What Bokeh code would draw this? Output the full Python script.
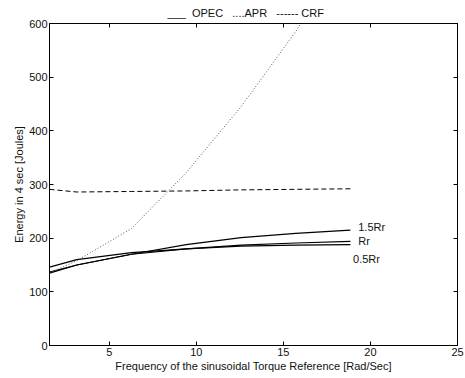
from bokeh.plotting import figure
from bokeh.models import Range1d, LinearAxis, FixedTicker, Label, Title
from bokeh.embed import file_html
from bokeh.resources import INLINE

# data
freq = [1.57, 3.14, 6.28, 9.42, 12.57, 15.71, 18.85]
opec_15rr = [135, 150, 170, 188, 201, 209, 215]
opec_rr = [137, 150, 170, 180, 187, 191, 194]
opec_05rr = [146, 160, 173, 180, 185, 187, 188]
apr = [135, 158, 218, 322, 445, 585, 750]
crf = [291, 286, 287, 288, 290, 291, 292]
x_ticks = [5, 10, 15, 20, 25]
y_ticks = [0, 100, 200, 300, 400, 500, 600]
curve_labels = ["1.5Rr", "Rr", "0.5Rr"]
curve_label_x = [19.3, 19.3, 19.0]
curve_label_y = [221, 194, 161]
legend_text = "___\u00a0\u00a0OPEC\u00a0\u00a0\u00a0....APR\u00a0\u00a0\u00a0------\u00a0CRF"

FONT = "Liberation Sans"
FS = "11px"

p = figure(width=465, height=378, output_backend="svg", toolbar_location=None,
           x_range=Range1d(1.57, 25), y_range=Range1d(0, 600),
           min_border_left=49, min_border_right=8, min_border_top=4, min_border_bottom=33)
p.grid.visible = False
p.outline_line_color = "black"
p.outline_line_width = 1
p.background_fill_color = "white"
p.border_fill_color = "white"

p.line(freq, opec_15rr, line_color="black", line_width=1.2)
p.line(freq, opec_rr, line_color="black", line_width=1.2)
p.line(freq, opec_05rr, line_color="black", line_width=1.2)
p.line(freq, apr, line_color="#555555", line_width=1, line_dash="1 2")
p.line(freq, crf, line_color="black", line_width=1, line_dash="5 3")

for t, x, y in zip(curve_labels, curve_label_x, curve_label_y):
    p.add_layout(Label(x=x, y=y, text=t, text_font=FONT, text_font_size=FS,
                       text_baseline="middle", text_color="#111111"))

def style(ax, labels=True):
    ax.major_tick_in = 4
    ax.major_tick_out = 0
    ax.minor_tick_in = 0
    ax.minor_tick_out = 0
    ax.axis_line_color = "black"
    ax.axis_line_width = 1
    ax.major_label_text_font = FONT
    ax.major_label_text_font_size = FS
    ax.major_label_text_color = "#111111"
    ax.axis_label_text_font = FONT
    ax.axis_label_text_font_size = FS
    ax.axis_label_text_font_style = "normal"
    ax.axis_label_text_color = "#111111"
    ax.major_label_standoff = 2
    ax.axis_label_standoff = 1
    if not labels:
        ax.major_label_text_font_size = "1px"
        ax.major_label_standoff = 0
        ax.major_label_overrides = {t: "" for t in (x_ticks + y_ticks)}

p.xaxis.ticker = FixedTicker(ticks=x_ticks)
p.yaxis.ticker = FixedTicker(ticks=y_ticks)
p.xaxis.axis_label = "Frequency of the sinusoidal Torque Reference [Rad/Sec]"
p.yaxis.axis_label = "Energy in 4 sec [Joules]"
style(p.xaxis[0])
style(p.yaxis[0])

top = LinearAxis(ticker=FixedTicker(ticks=x_ticks))
style(top, labels=False)
p.add_layout(top, "above")
right = LinearAxis(ticker=FixedTicker(ticks=y_ticks))
style(right, labels=False)
p.add_layout(right, "right")

title = Title(text=legend_text, text_font=FONT, text_font_size=FS,
              text_font_style="normal", text_color="#111111",
              align="left", offset=118, standoff=9)
p.add_layout(title, "above")

open("out.html", "w").write(file_html(p, INLINE))
